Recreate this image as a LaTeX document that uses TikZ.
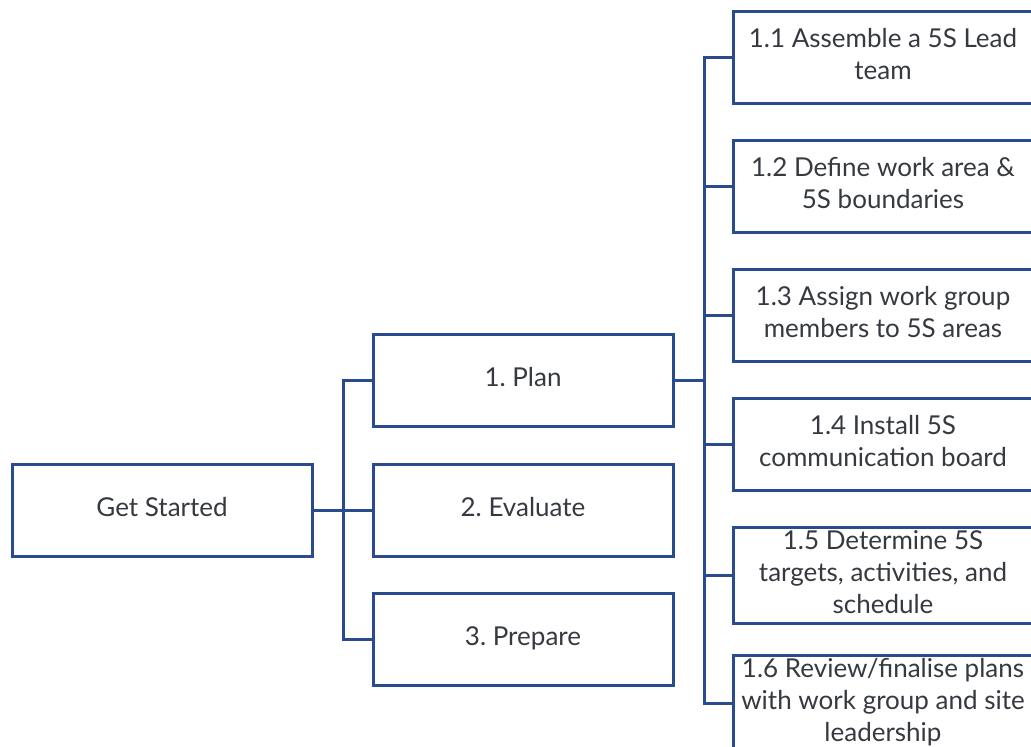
\documentclass[tikz,border=0pt]{standalone}
\usepackage{fontspec}
\setmainfont{Lato}
\usetikzlibrary{calc}
\definecolor{lineblue}{HTML}{2A4B8D}
\definecolor{txt}{HTML}{363A40}
\newcommand\bxtext[1]{\begin{tabular}{@{}c@{}}#1\end{tabular}}
\begin{document}
\frenchspacing
\begin{tikzpicture}[x=1pt,y=-1pt,
  box/.style={draw=lineblue,line width=3pt,fill=white,minimum width=300pt,minimum height=92pt,
    text=txt,font=\fontsize{26}{32}\selectfont\frenchspacing,inner sep=0pt},
  conn/.style={draw=lineblue,line width=3pt}]
\useasboundingbox (0,0) rectangle (1031,747);
\clip (0,0) rectangle (1031,747);
\node[box] (gs) at (162,510) {\bxtext{Get Started}};
\node[box] (plan) at (523,380) {\bxtext{1. Plan}};
\node[box] (eval) at (523,510) {\bxtext{2. Evaluate}};
\node[box] (prep) at (523,639) {\bxtext{3. Prepare}};
\node[box] (t1) at (883,57.5) {\bxtext{1.1 Assemble a 5S Lead\\team}};
\node[box] (t2) at (883,186) {\bxtext{1.2 Define work area \&\\5S boundaries}};
\node[box] (t3) at (883,315.5) {\bxtext{1.3 Assign work group\\members to 5S areas}};
\node[box] (t4) at (883,444.5) {\bxtext{1.4 Install 5S\\communication board}};
\node[box] (t5) at (883,575) {\bxtext{1.5 Determine 5S\\targets, activities, and\\schedule}};
\node[box] (t6) at (883,703) {\bxtext{1.6 Review/finalise plans\\with work group and site\\leadership}};
\foreach \c in {plan,eval,prep}
  \draw[conn] (gs.east) -- ++(30,0) |- (\c.west);
\foreach \c in {t1,t2,t3,t4,t5,t6}
  \draw[conn] (plan.east) -- ++(30,0) |- (\c.west);
\end{tikzpicture}
\end{document}
